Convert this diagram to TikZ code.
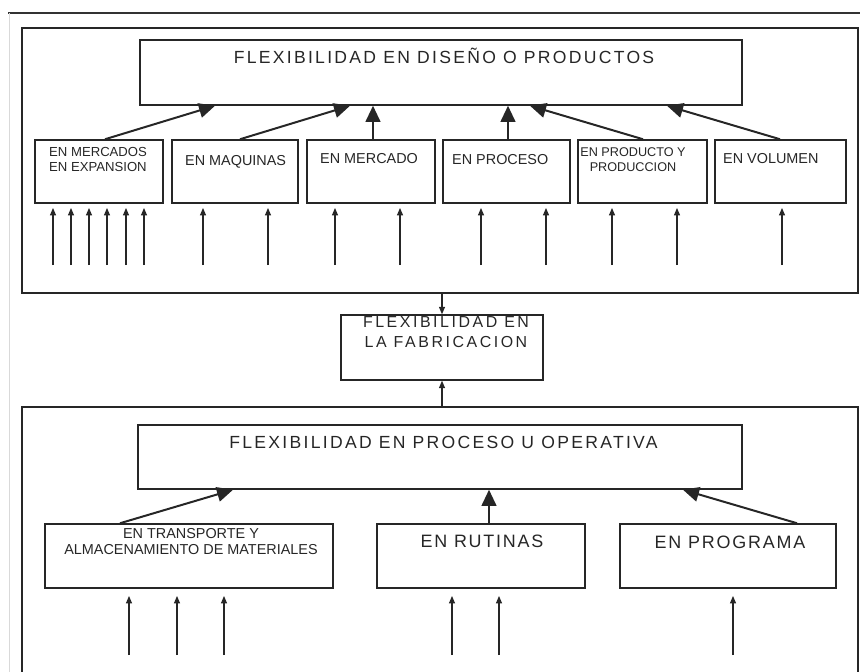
\documentclass[tikz,border=0pt]{standalone}
\usepackage{fontspec}
\setmainfont{Liberation Sans}
\usetikzlibrary{arrows.meta}
\usetikzlibrary{calc}

\begin{document}
\begin{tikzpicture}[x=0.03cm, y=-0.03cm, inner sep=0pt,
  box/.style={draw=black!85, line width=1.3pt},
  up/.style={draw=black!85, line width=1.7pt, -{Triangle[length=0.48cm, width=0.44cm]}},
  feed/.style={draw=black!85, line width=0.9pt, -{Triangle[length=0.22cm, width=0.18cm]}},
  head/.style={text=black!85, font=\fontsize{15}{17}\selectfont\addfontfeature{LetterSpace=13}},
  sub/.style={text=black!85, font=\fontsize{12.3}{13.6}\selectfont},
  subsmall/.style={text=black!85, font=\fontsize{11.2}{12.8}\selectfont},
  low/.style={text=black!85, font=\fontsize{15.3}{17}\selectfont\addfontfeature{LetterSpace=10}}]
\def\u{0.03cm}
\useasboundingbox (0,0) rectangle (860,672);

% page edge of the scan
\draw[black!80, line width=1.2pt] (8,13) -- (860,13);
\draw[black!15, line width=0.8pt] (9,13) -- (9,672);

% upper block
\node[box, minimum width=836*\u, minimum height=265*\u] (dis-frame) at (440,160.5) {};
\node[box, minimum width=602*\u, minimum height=65*\u] (dis) at (441,72.5) {};
\node[head, anchor=base] (dis-t) at (444,63.5) {FLEXIBILIDAD EN DISEÑO O PRODUCTOS};

\node[box, minimum width=128*\u, minimum height=63*\u] (m1) at (99,171.5) {};
\node[box, minimum width=126*\u, minimum height=63*\u] (m2) at (235,171.5) {};
\node[box, minimum width=128*\u, minimum height=63*\u] (m3) at (371,171.5) {};
\node[box, minimum width=127*\u, minimum height=63*\u] (m4) at (506.5,171.5) {};
\node[box, minimum width=129*\u, minimum height=63*\u] (m5) at (642.5,171.5) {};
\node[box, minimum width=131*\u, minimum height=63*\u] (m6) at (780.5,171.5) {};

\node[subsmall, anchor=north west, align=left] (m1-t) at (49,147) {EN MERCADOS\\EN EXPANSION};
\node[sub, anchor=base west] (m2-t) at (185,165) {EN MAQUINAS};
\node[sub, anchor=base west] (m3-t) at (320,163) {EN MERCADO};
\node[sub, anchor=base west] (m4-t) at (452,164) {EN PROCESO};
\node[subsmall, anchor=north, align=center, font=\fontsize{10.8}{12.8}\selectfont] (m5-t) at (633,147) {EN PRODUCTO Y\\PRODUCCION};
\node[sub, anchor=base west] (m6-t) at (723,163) {EN VOLUMEN};

\draw[up] ($(m1.north)+(6,0)$) -- ($(dis.south)+(-226,0)$);
\draw[up] ($(m2.north)+(5,0)$) -- ($(dis.south)+(-91,0)$);
\draw[up] ($(m3.north)+(2,0)$) -- ($(dis.south)+(-68,0)$);
\draw[up] ($(m4.north)+(1.5,0)$) -- ($(dis.south)+(67,0)$);
\draw[up] ($(m5.north)+(0.5,0)$) -- ($(dis.south)+(89,0)$);
\draw[up] ($(m6.north)+(-0.5,0)$) -- ($(dis.south)+(226,0)$);

\foreach \x in {53,71,89,107,126,144,203,268,335,400,481,546,612,677,782}
  \draw[feed] (\x,265) -- (\x,208);

% middle box
\node[box, minimum width=202*\u, minimum height=65*\u] (fab) at (442,347.5) {};
\node[head, anchor=north, align=center, font=\fontsize{13.6}{17}\selectfont\addfontfeature{LetterSpace=16}] (fab-t) at (446,316) {FLEXIBILIDAD EN\\LA FABRICACION};

% lower block, open at the foot of the page
\node[box, minimum width=836*\u, minimum height=293*\u] (op-frame) at (440,553.5) {};
\node[box, minimum width=604*\u, minimum height=64*\u] (op) at (440,457) {};
\node[head, anchor=base] (op-t) at (443.5,448) {FLEXIBILIDAD EN PROCESO U OPERATIVA};

\node[box, minimum width=288*\u, minimum height=64*\u] (t1) at (189,556) {};
\node[box, minimum width=208*\u, minimum height=64*\u] (t2) at (481,556) {};
\node[box, minimum width=216*\u, minimum height=64*\u] (t3) at (728,556) {};

\node[sub, anchor=north, align=center] (t1-t) at (191,528) {EN TRANSPORTE Y\\ALMACENAMIENTO DE MATERIALES};
\node[low, anchor=base] (t2-t) at (482,547) {EN RUTINAS};
\node[low, anchor=base] (t3-t) at (730,548) {EN PROGRAMA};

\draw[up] ($(t1.north)+(-69,0)$) -- ($(op.south)+(-207,0)$);
\draw[up] ($(t2.north)+(8,0)$) -- ($(op.south)+(49,0)$);
\draw[up] ($(t3.north)+(69,0)$) -- ($(op.south)+(243,0)$);

\foreach \x in {129,177,224,452,499,733}
  \draw[feed] (\x,655) -- (\x,596);

% links through the middle box
\draw[feed] (fab.north |- dis-frame.south) -- (fab.north);
\draw[feed] (fab.south |- op-frame.north) -- (fab.south);
\end{tikzpicture}
\end{document}
